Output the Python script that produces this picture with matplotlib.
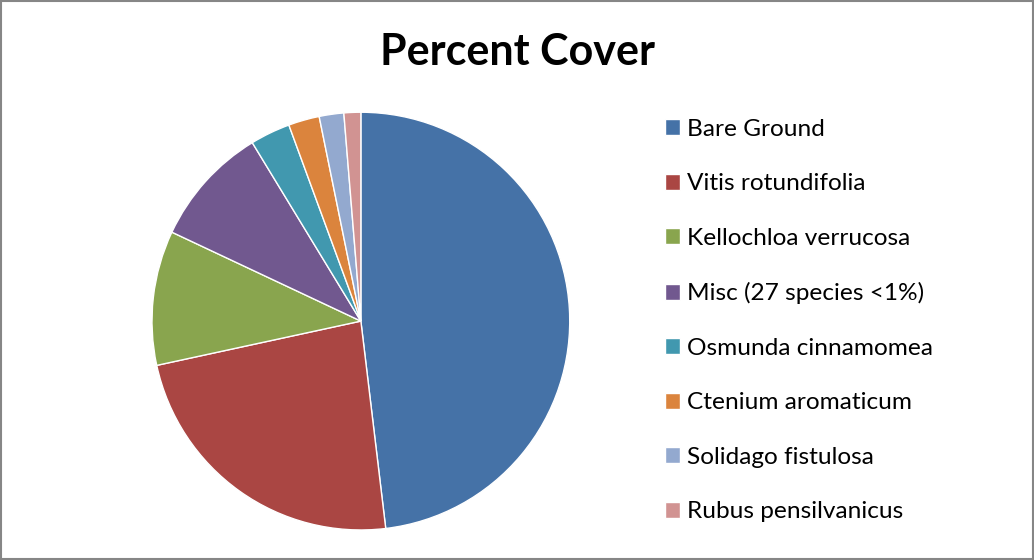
import matplotlib.pyplot as plt
from matplotlib.patches import Rectangle

labels = ["Bare Ground", "Vitis rotundifolia", "Kellochloa verrucosa",
          "Misc (27 species <1%)", "Osmunda cinnamomea", "Ctenium aromaticum",
          "Solidago fistulosa", "Rubus pensilvanicus"]
cover = [48.1, 23.5, 10.4, 9.3, 3.1, 2.4, 1.9, 1.3]
colors = ["#4572A7", "#AA4643", "#89A54E", "#71588F",
          "#4198AF", "#DB843D", "#93A9CF", "#D19392"]

plt.rcParams['font.family'] = ['Lato', 'DejaVu Sans']

fig = plt.figure(figsize=(10.34, 5.6), dpi=100)
ax = fig.add_axes([0.147, 0.0536, 0.404, 0.746])
wedges, _ = ax.pie(cover, colors=colors, startangle=90, counterclock=False,
                   wedgeprops=dict(edgecolor='white', linewidth=1))
ax.set_xlim(-1, 1)
ax.set_ylim(-1, 1)
ax.set_aspect('equal')

fig.text(0.5, 0.908, "Percent Cover", ha='center', va='center',
         fontsize=31, fontweight='bold')

fig.legend(wedges, labels, loc='upper left', bbox_to_anchor=(0.6215, 0.827),
           frameon=False, fontsize=17.6, labelspacing=1.37,
           handlelength=0.62, handleheight=0.62, handletextpad=0.3)

fig.add_artist(Rectangle((0.001, 0.002), 0.998, 0.996, transform=fig.transFigure,
                         fill=False, edgecolor='#868686', linewidth=1.5))

fig.savefig('out.png', dpi=100)
